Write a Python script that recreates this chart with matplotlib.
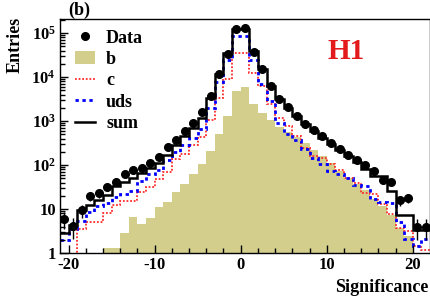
import numpy as np
import matplotlib
matplotlib.use("Agg")
import matplotlib.pyplot as plt
from matplotlib.lines import Line2D
from matplotlib.patches import Patch
from matplotlib.ticker import FixedLocator, FixedFormatter, LogLocator, NullFormatter

# bin edges of the significance histogram (unit bins)
edges = np.arange(-21, 23)

data = [6, 4.1, 9.5, 20, 23, 31, 42, 64, 77, 85, 113, 150, 255, 370, 610, 910,
        1600, 3700, 11800, 34000, 127000, 130000, 38000, 15600, 6400, 3150, 2050,
        1320, 850, 620, 455, 310, 228, 170, 130, 98, 73, 46, 41, 15.8, 18, 3.9, 3.9]

b_quark = [0, 0, 0, 0, 0, 1.3, 1.3, 2.9, 6.6, 4.5, 6.1, 11, 14.5, 24, 38, 63,
           107, 205, 515, 1300, 4800, 5900, 2400, 1550, 1080, 750, 560,
           430, 310, 220, 160, 113, 75, 50, 38, 27, 17, 12, 7.5, 3.8, 2.5, 0, 0]

c_quark = [0, 0, 3.5, 5, 5, 8, 12.5, 15, 15, 24, 32, 48, 68, 140, 175, 280,
           430, 1050, 3300, 9300, 36000, 36000, 12500, 6400, 2400, 1200, 770,
           450, 240, 160, 142, 104, 76, 51, 40, 23, 21.5, 12.8, 7.6, 3.8, 3.2, 1.44, 1.2]

uds = [2.0, 3.5, 5.3, 8.5, 12, 14, 18.5, 21.5, 25.5, 44, 62, 78, 130, 195, 285, 410,
       650, 2000, 7700, 24000, 86000, 86000, 24000, 7000, 2800, 915, 500,
       365, 228, 142, 107, 73, 63, 51, 36, 33, 16.6, 14.7, 13.9, 5, 2.05, 1.44, 2.05]

mc_sum = [2.9, 4.3, 9.5, 12.3, 16, 21, 33, 42, 50, 67, 84, 110, 170, 290, 455, 700,
          1200, 3400, 12000, 35600, 127000, 127000, 39000, 15000, 6300, 3100, 2000,
          1300, 840, 590, 415, 300, 220, 160, 120, 80, 55, 55, 26, 7.3, 7.3, 3.3, 3.3]

xticks = [-20, -10, 0, 10, 20]
xtick_labels = ["-20", "-10", "0", "10", "20"]
yticks = [1, 10, 100, 1e3, 1e4, 1e5]
ytick_labels = ["1", "10", "10$^{2}$", "10$^{3}$", "10$^{4}$", "10$^{5}$"]

plt.rcParams["font.family"] = ["Liberation Serif", "DejaVu Serif"]
plt.rcParams["font.weight"] = "bold"
plt.rcParams["mathtext.fontset"] = "custom"
plt.rcParams["mathtext.rm"] = "Liberation Serif:bold"
plt.rcParams["mathtext.it"] = "Liberation Serif:bold"
plt.rcParams["mathtext.bf"] = "Liberation Serif:bold"

fig = plt.figure(figsize=(4.31, 2.99), dpi=100)
ax = fig.add_axes([60 / 431, 1 - 253 / 299, 370 / 431, 234 / 299])

floor = 0.1
ax.stairs(np.clip(b_quark, floor, None), edges, fill=True, baseline=floor,
          color="#d3ce8c", linewidth=0)
ax.stairs(np.clip(c_quark, floor, None), edges, baseline=None, color="#ff2a2a",
          linewidth=1.3, linestyle=(0, (1, 1)))
ax.stairs(np.clip(uds, floor, None), edges, baseline=None, color="#0000ff",
          linewidth=2.0, linestyle=(0, (1.2, 1.3)))
ax.stairs(mc_sum, edges, baseline=None, color="black", linewidth=1.8)

centers = 0.5 * (edges[:-1] + edges[1:])
data = np.array(data)
ax.errorbar(centers, data, yerr=np.sqrt(data), fmt="o", color="black",
            ms=5.5, elinewidth=1.0, capsize=0, zorder=5)

ax.set_yscale("log")
ax.set_xlim(-21, 22)
ax.set_ylim(1, 2.1e5)

ax.xaxis.set_major_locator(FixedLocator(xticks))
ax.xaxis.set_major_formatter(FixedFormatter(xtick_labels))
ax.xaxis.set_minor_locator(FixedLocator(np.arange(-20, 22, 2)))
ax.yaxis.set_major_locator(FixedLocator(yticks))
ax.yaxis.set_major_formatter(FixedFormatter(ytick_labels))
ax.yaxis.set_minor_locator(LogLocator(base=10, subs=np.arange(2, 10)))
ax.yaxis.set_minor_formatter(NullFormatter())

ax.tick_params(which="both", direction="in", top=False, right=False,
               labelsize=12)
ax.tick_params(which="major", length=6, width=1)
ax.tick_params(which="minor", length=3.5, width=1)
ax.tick_params(axis="x", pad=3)
ax.tick_params(axis="y", pad=3)
for sp in ax.spines.values():
    sp.set_linewidth(1.0)

fig.text(15 / 431, 1 - 17 / 299, "Entries", rotation=90, ha="center", va="top",
         fontsize=13, fontweight="bold")
fig.text(428 / 431, 1 - 287 / 299, "Significance", ha="right", va="center",
         fontsize=13, fontweight="bold")
fig.text(68 / 431, 1 - 10 / 299, "(b)", ha="left", va="center",
         fontsize=13, fontweight="bold")
ax.text(0.774, 0.863, "H1", transform=ax.transAxes, ha="center", va="center",
        fontsize=21, fontweight="bold", color="#e31a1c")

handles = [
    Line2D([], [], marker="o", color="black", linestyle="none", ms=5.5),
    Patch(facecolor="#d3ce8c", edgecolor="none"),
    Line2D([], [], color="#ff2a2a", linewidth=1.3, linestyle=(0, (1, 1))),
    Line2D([], [], color="#0000ff", linewidth=2.0, linestyle=(0, (1.2, 1.3))),
    Line2D([], [], color="black", linewidth=1.8),
]
labels = ["Data", "b", "c", "uds", "sum"]
ax.legend(handles, labels, loc="upper left", bbox_to_anchor=(0.022, 0.985),
          frameon=False, fontsize=13, handlelength=1.1, handletextpad=0.6,
          labelspacing=0.24, borderaxespad=0)

fig.savefig("out.png", dpi=100)
